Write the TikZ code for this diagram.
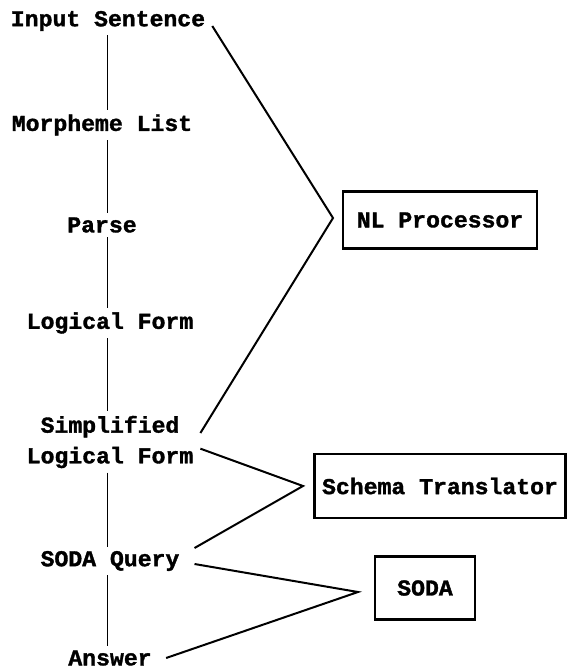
\documentclass[tikz,border=0pt]{standalone}
\usepackage{fontspec}
\setmonofont{Liberation Mono}[FakeStretch=1.02,FakeBold=1.5]

\tikzset{every picture/.style={line width=0.75pt}}
\tikzset{
	stage/.style={font=\ttfamily\bfseries\fontsize{17}{23}\selectfont, inner sep=3pt, align=center},
	unit/.style={stage, draw, line width=1.8pt, inner sep=0pt},
	spoke/.style={line width=1.5pt},
}

\begin{document}
\begin{tikzpicture}[x=0.75pt,y=0.75pt,yscale=-1,xscale=1]
	\useasboundingbox (0,0) rectangle (568,672);

	% Text Node
	\node [stage] (input) at (108,21) {Input Sentence};
	% Text Node
	\node [stage] (morph) at (102,125) {Morpheme List};
	% Text Node
	\node [stage] (parse) at (102,225) {Parse};
	% Text Node
	\node [stage] (lf) at (110,323) {Logical Form};
	% Text Node
	\node [stage] (slf) at (110,442) {Simplified\\Logical Form};
	% Text Node
	\node [stage] (query) at (110,561) {SODA Query};
	% Text Node
	\node [stage] (answer) at (110,658) {Answer};

	% Boxes
	\node [unit, minimum width=145.5pt, minimum height=42.75pt] (nlp) at (440,220) {NL Processor};
	\node [unit, minimum width=188.25pt, minimum height=48pt] (trans) at (440,486) {Schema Translator};
	\node [unit, minimum width=75pt, minimum height=47.25pt] (soda) at (425,588) {SODA};

	% Straight Lines (the spine)
	\coordinate (spine) at (107,0);
	\draw (spine |- input.south) -- (spine |- morph.north);
	\draw (spine |- morph.south) -- (spine |- parse.north);
	\draw (spine |- parse.south) -- (spine |- lf.north);
	\draw (spine |- lf.south) -- (spine |- slf.north);
	\draw (spine |- slf.south) -- (spine |- query.north);
	\draw (spine |- query.south) -- (spine |- answer.north);

	% Brackets
	\coordinate (nlTip) at (333,218);
	\coordinate (transTip) at (303,486);
	\coordinate (sodaTip) at (358,592);
	\draw [spoke] ([xshift=2pt,yshift=3.75pt]input.east) -- (nlTip) -- ([xshift=2pt,yshift=-6.75pt]slf.east);
	\draw [spoke] ([xshift=2pt,yshift=5pt]slf.east) -- (transTip) -- ([xshift=8pt,yshift=-9.75pt]query.east);
	\draw [spoke] ([xshift=8pt,yshift=2.25pt]query.east) -- (sodaTip) -- ([xshift=7.5pt]answer.east);

\end{tikzpicture}
\end{document}
